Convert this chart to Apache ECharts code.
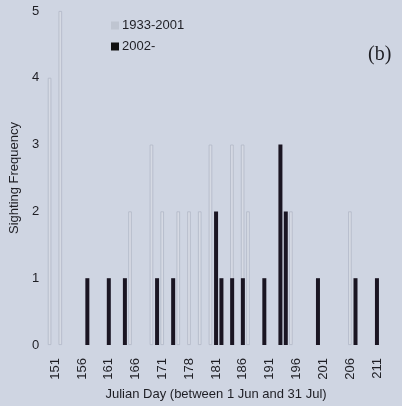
<!DOCTYPE html>
<html><head><meta charset="utf-8">
<script src="https://cdn.jsdelivr.net/npm/echarts@6/dist/echarts.min.js"></script>
<style>html,body{margin:0;padding:0;background:#cfd5e2;}#c{width:402px;height:406px;}</style>
</head><body><div id="c"></div>
<script>
// Julian days shown on the category axis (150 .. 212)
const days = [150,151,152,153,154,155,156,157,158,159,160,161,162,163,164,165,166,167,168,169,170,171,172,173,174,175,176,177,178,179,180,181,182,183,184,185,186,187,188,189,190,191,192,193,194,195,196,197,198,199,200,201,202,203,204,205,206,207,208,209,210,211,212];
// Tick labels as printed under the axis (day -> label)
const tickDays   = [151,156,161,166,171,176,181,186,191,196,201,206,211];
const tickLabels = ['151','156','161','166','171','178','181','186','191','196','201','206','211'];
// 1933-2001 sightings
const oldDays   = [150,152,165,169,171,174,176,178,180,184,186,187,195,206];
const oldValues = [4,  5,  2,  3,  2,  2,  2,  2,  3,  3,  3,  2,  2,  2];
// 2002- sightings
const newDays   = [157,161,164,170,173,181,182,184,186,190,193,194,200,207,211];
const newValues = [1,  1,  1,  1,  1,  2,  1,  1,  1,  1,  3,  2,  1,  1,  1];

function toSeries(ds, vs){
  const m = {}; ds.forEach((d,i)=>m[d]=vs[i]);
  return days.map(d => m[d] === undefined ? null : m[d]);
}
const labelMap = {}; tickDays.forEach((d,i)=>labelMap[d]=tickLabels[i]);
const FONT = 'Liberation Sans, Arial';

const chart = echarts.init(document.getElementById('c'));
chart.setOption({
  backgroundColor: '#cfd5e2',
  animation: false,
  grid: {left: 47, right: 17, top: 11, bottom: 60},
  legend: {
    orient: 'vertical', left: 106, top: 14, itemGap: 8,
    itemWidth: 8, itemHeight: 8,
    textStyle: {fontFamily: FONT, fontSize: 13, color: '#1e1e24', padding: [0,0,0,-2]},
    data: [
      {name: '1933-2001', icon: 'rect', itemStyle: {color: '#bfc5d1', borderWidth: 0}},
      {name: '2002-', icon: 'rect', itemStyle: {color: '#111', borderWidth: 0}}
    ]
  },
  xAxis: {
    type: 'category', data: days.map(String), boundaryGap: true,
    name: 'Julian Day (between 1 Jun and 31 Jul)', nameLocation: 'middle', nameGap: 43,
    nameTextStyle: {fontFamily: FONT, fontSize: 13, color: '#1e1e24'},
    axisLine: {show: false}, axisTick: {show: false},
    axisLabel: {
      rotate: 90, margin: 13, fontFamily: FONT, fontSize: 13, color: '#1e1e24',
      interval: (i, v) => labelMap[+v] !== undefined,
      formatter: v => labelMap[+v] || ''
    }
  },
  yAxis: {
    type: 'value', min: 0, max: 5, interval: 1,
    name: 'Sighting Frequency', nameLocation: 'middle', nameGap: 24,
    nameTextStyle: {fontFamily: FONT, fontSize: 13, color: '#1e1e24'},
    axisLine: {show: false}, axisTick: {show: false}, splitLine: {show: false},
    axisLabel: {margin: 8, fontFamily: FONT, fontSize: 13, color: '#1e1e24'}
  },
  series: [
    {name: '1933-2001', type: 'bar', data: toSeries(oldDays, oldValues), barWidth: 3.5,
     barGap: '-100%', itemStyle: {color: '#d6dae4', borderColor: '#b1b8c6', borderWidth: 0.8}},
    {name: '2002-', type: 'bar', data: toSeries(newDays, newValues), barWidth: 4,
     barGap: '-100%', itemStyle: {color: '#1a1522'}}
  ],
  graphic: [
    {type: 'text', left: 368, top: 45, style: {text: '(b)', fontFamily: 'Liberation Serif, Times New Roman', fontSize: 20, fill: '#1e1e24'}}
  ]
});
</script></body></html>
